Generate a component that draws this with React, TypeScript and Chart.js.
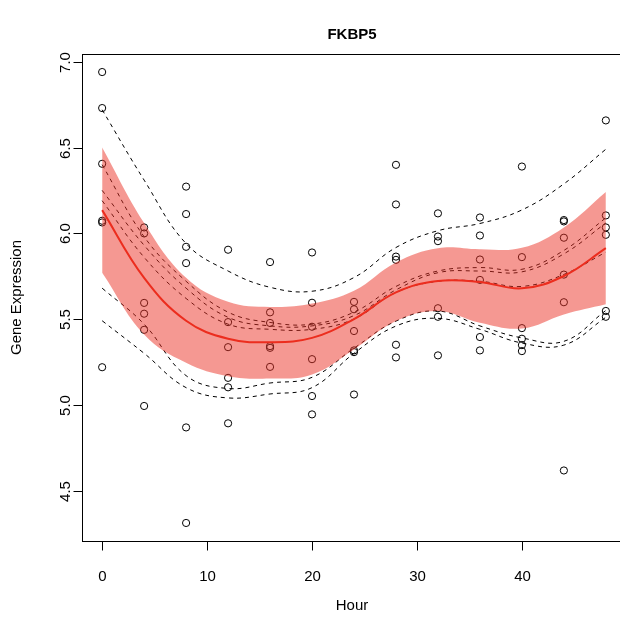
import React, { useEffect, useRef } from "react";
import { Chart, registerables } from "chart.js";

Chart.register(...registerables);

const chartTitle = "FKBP5";
const xTitle = "Hour";
const yTitle = "Gene Expression";
const xTicks = [0, 10, 20, 30, 40];
const yTicks = [4.5, 5.0, 5.5, 6.0, 6.5, 7.0];
const yTickLabels = ["4.5", "5.0", "5.5", "6.0", "6.5", "7.0"];

const hours = [0, 4, 8, 12, 16, 20, 24, 28, 32, 36, 40, 44, 48];

// observed expression, six samples per hour
const expression = [
  [6.94, 6.73, 6.405, 6.073, 6.063, 5.219],
  [6.034, 5.999, 5.594, 5.531, 5.437, 4.993],
  [6.272, 6.112, 5.921, 5.826, 4.868, 4.311],
  [5.904, 5.482, 5.336, 5.157, 5.102, 4.892],
  [5.832, 5.539, 5.477, 5.342, 5.332, 5.221],
  [5.888, 5.595, 5.455, 5.266, 5.051, 4.944],
  [5.6, 5.557, 5.43, 5.317, 5.307, 5.06],
  [6.399, 6.168, 5.864, 5.845, 5.35, 5.276],
  [6.116, 5.981, 5.954, 5.563, 5.513, 5.288],
  [6.092, 5.987, 5.847, 5.728, 5.395, 5.317],
  [6.389, 5.861, 5.447, 5.385, 5.348, 5.313],
  [6.077, 6.069, 5.974, 5.759, 5.598, 4.617],
  [6.658, 6.104, 6.034, 5.991, 5.547, 5.513],
];

const fitValues = [6.135, 5.74, 5.49, 5.385, 5.365, 5.39, 5.5, 5.655, 5.722, 5.716, 5.679, 5.751, 5.913];
const bandUpper = [6.5, 6.06, 5.74, 5.6, 5.57, 5.59, 5.665, 5.83, 5.913, 5.907, 5.915, 6.034, 6.24];
const bandLower = [5.77, 5.41, 5.245, 5.167, 5.153, 5.177, 5.323, 5.488, 5.547, 5.478, 5.445, 5.527, 5.586];

const subject1 = [6.72, 6.31, 5.94, 5.78, 5.685, 5.662, 5.742, 5.917, 6.015, 6.057, 6.136, 6.288, 6.49];
const subject2 = [6.4, 5.98, 5.72, 5.54, 5.48, 5.47, 5.54, 5.69, 5.78, 5.8, 5.79, 5.9, 6.09];
const subject3 = [6.25, 5.93, 5.68, 5.51, 5.46, 5.46, 5.52, 5.67, 5.77, 5.78, 5.775, 5.88, 6.06];
const subject4 = [6.19, 5.86, 5.62, 5.47, 5.44, 5.44, 5.5, 5.655, 5.72, 5.72, 5.69, 5.76, 5.89];
const subject5 = [5.68, 5.47, 5.17, 5.095, 5.127, 5.16, 5.33, 5.488, 5.547, 5.46, 5.39, 5.37, 5.55];
const subject6 = [5.49, 5.3, 5.1, 5.04, 5.063, 5.1, 5.3, 5.459, 5.504, 5.44, 5.36, 5.348, 5.51];
const subjectCurves = [subject1, subject2, subject3, subject4, subject5, subject6];

const FONT = "'Liberation Sans', Arial, Helvetica, sans-serif";

function toPoints(vals: number[]) {
  return hours.map((h, i) => ({ x: h, y: vals[i] }));
}

const allObs = expression.flat();
const yLo = Math.min(...allObs);
const yHi = Math.max(...allObs);
const yPad = (yHi - yLo) * 0.04;
const xPad = (hours[hours.length - 1] - hours[0]) * 0.04;

const axesPlugin = {
  id: "rAxes",
  afterDraw(chart: any) {
    const { ctx, chartArea } = chart;
    const xs = chart.scales.x;
    const ys = chart.scales.y;
    const L = Math.round(chartArea.left) + 0.5;
    const T = Math.round(chartArea.top) + 0.5;
    const R = Math.round(chartArea.right) + 0.5;
    const B = Math.round(chartArea.bottom) + 0.5;
    ctx.save();
    ctx.strokeStyle = "#000";
    ctx.lineWidth = 1;
    ctx.strokeRect(L, T, R - L, B - T);
    const tl = 9;
    ctx.fillStyle = "#000";
    ctx.font = `15px ${FONT}`;
    ctx.textAlign = "center";
    ctx.textBaseline = "middle";
    xTicks.forEach((v) => {
      const px = Math.round(xs.getPixelForValue(v)) + 0.5;
      ctx.beginPath();
      ctx.moveTo(px, B);
      ctx.lineTo(px, B + tl);
      ctx.stroke();
      ctx.fillText(String(v), px, 577);
    });
    yTicks.forEach((v, i) => {
      const py = Math.round(ys.getPixelForValue(v)) + 0.5;
      ctx.beginPath();
      ctx.moveTo(L, py);
      ctx.lineTo(L - tl, py);
      ctx.stroke();
      ctx.save();
      ctx.translate(66, py);
      ctx.rotate(-Math.PI / 2);
      ctx.fillText(yTickLabels[i], 0, 0);
      ctx.restore();
    });
    const cx = (chartArea.left + chartArea.right) / 2 - 2;
    ctx.font = `bold 15px ${FONT}`;
    ctx.fillText(chartTitle, cx, 35);
    ctx.font = `15px ${FONT}`;
    ctx.fillText(xTitle, cx, 606);
    ctx.save();
    ctx.translate(17, (chartArea.top + chartArea.bottom) / 2);
    ctx.rotate(-Math.PI / 2);
    ctx.fillText(yTitle, 0, 0);
    ctx.restore();
    ctx.restore();
  },
};

export default function App() {
  const ref = useRef<HTMLCanvasElement | null>(null);
  useEffect(() => {
    if (!ref.current) return;
    const scatterData = expression.flatMap((row, i) => row.map((v) => ({ x: hours[i], y: v })));
    const datasets: any[] = [];
    const curve = { pointRadius: 0, tension: 0.4, fill: false };
    datasets.push({
      ...curve,
      type: "line",
      label: "fit",
      data: toPoints(fitValues),
      borderColor: "rgb(236,45,30)",
      borderWidth: 2,
      order: 0,
    });
    datasets.push({
      ...curve,
      type: "line",
      label: "upper",
      data: toPoints(bandUpper),
      borderWidth: 0,
      borderColor: "rgba(0,0,0,0)",
      fill: { target: 2 },
      backgroundColor: "rgba(236,50,38,0.5)",
      order: 1,
    });
    datasets.push({
      ...curve,
      type: "line",
      label: "lower",
      data: toPoints(bandLower),
      borderWidth: 0,
      borderColor: "rgba(0,0,0,0)",
      order: 1,
    });
    subjectCurves.forEach((c, i) => {
      datasets.push({
        ...curve,
        type: "line",
        label: "s" + i,
        data: toPoints(c),
        borderColor: "#000",
        borderWidth: 1,
        borderDash: [4, 4],
        order: 3,
      });
    });
    datasets.push({
      type: "scatter",
      label: "obs",
      data: scatterData,
      pointRadius: 3.6,
      pointBorderWidth: 1,
      pointBorderColor: "#000",
      pointBackgroundColor: "rgba(0,0,0,0)",
      showLine: false,
      order: 4,
    });
    const chart = new Chart(ref.current, {
      type: "scatter",
      data: { datasets },
      options: {
        animation: false,
        responsive: false,
        devicePixelRatio: 1,
        layout: { padding: { left: 82, top: 54, right: 14, bottom: 80 } },
        plugins: { legend: { display: false }, tooltip: { enabled: false }, title: { display: false } },
        scales: {
          x: { type: "linear", display: false, min: hours[0] - xPad, max: hours[hours.length - 1] + xPad },
          y: { type: "linear", display: false, min: yLo - yPad, max: yHi + yPad },
        },
      },
      plugins: [axesPlugin],
    } as any);
    return () => chart.destroy();
  }, []);
  return (
    <div style={{ position: "fixed", left: 0, top: 0, width: 620, height: 621, overflow: "hidden", background: "#fff" }}>
      <canvas ref={ref} width={640} height={621} style={{ width: 640, height: 621, display: "block" }} />
    </div>
  );
}
